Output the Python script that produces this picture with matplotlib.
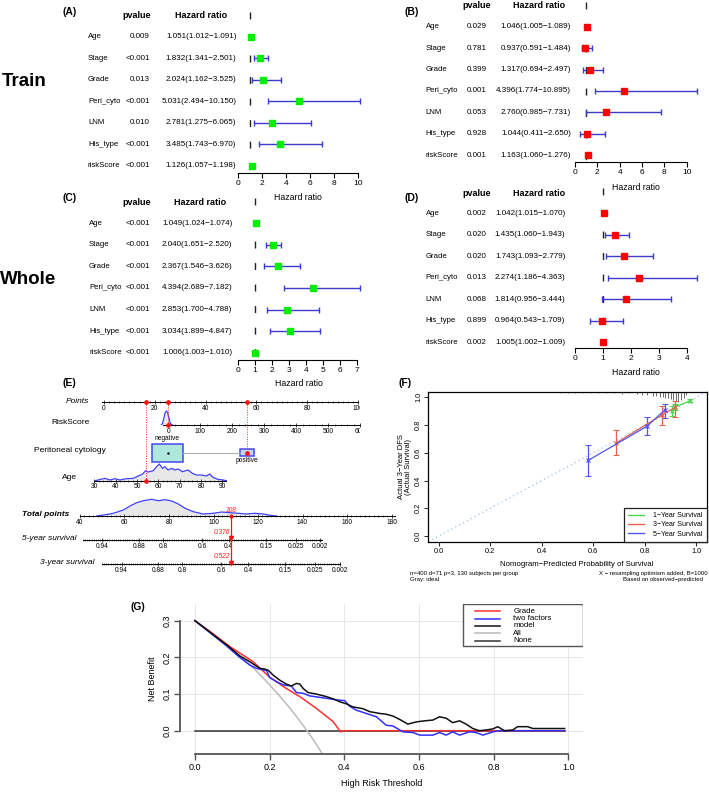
import numpy as np
import matplotlib.pyplot as plt
from matplotlib.transforms import blended_transform_factory, Bbox, TransformedBbox
from matplotlib.patches import Rectangle
from matplotlib.lines import Line2D

plt.rcParams['font.family'] = ['Liberation Sans', 'DejaVu Sans']

# ---------------- data: Cox forest plots ----------------
variables = ['Age', 'Stage', 'Grade', 'Peri_cyto', 'LNM', 'His_type', 'riskScore']

train_uni_p = ['0.009', '<0.001', '0.013', '<0.001', '0.010', '<0.001', '<0.001']
train_uni_hr = [1.051, 1.832, 2.024, 5.031, 2.781, 3.485, 1.126]
train_uni_lo = [1.012, 1.341, 1.162, 2.494, 1.275, 1.743, 1.057]
train_uni_hi = [1.091, 2.501, 3.525, 10.150, 6.065, 6.970, 1.198]

train_multi_p = ['0.029', '0.781', '0.399', '0.001', '0.053', '0.928', '0.001']
train_multi_hr = [1.046, 0.937, 1.317, 4.396, 2.760, 1.044, 1.163]
train_multi_lo = [1.005, 0.591, 0.694, 1.774, 0.985, 0.411, 1.060]
train_multi_hi = [1.089, 1.484, 2.497, 10.895, 7.731, 2.650, 1.276]

whole_uni_p = ['<0.001'] * 7
whole_uni_hr = [1.049, 2.040, 2.367, 4.394, 2.853, 3.034, 1.006]
whole_uni_lo = [1.024, 1.651, 1.546, 2.689, 1.700, 1.899, 1.003]
whole_uni_hi = [1.074, 2.520, 3.626, 7.182, 4.788, 4.847, 1.010]

whole_multi_p = ['0.002', '0.020', '0.020', '0.013', '0.068', '0.899', '0.002']
whole_multi_hr = [1.042, 1.435, 1.743, 2.274, 1.814, 0.964, 1.005]
whole_multi_lo = [1.015, 1.060, 1.093, 1.186, 0.956, 0.543, 1.002]
whole_multi_hi = [1.070, 1.943, 2.779, 4.363, 3.444, 1.709, 1.009]

# ---------------- data: nomogram ----------------
points_ticks = [0, 20, 40, 60, 80, 100]
risk_ticks = [0, 100, 200, 300, 400, 500, 600]
age_ticks = [30, 40, 50, 60, 70, 80, 90]
total_ticks = [40, 60, 80, 100, 120, 140, 160, 180]
surv_labels = ['0.94', '0.88', '0.8', '0.6', '0.4', '0.15', '0.025', '0.002']
surv5_total = [50.0, 66.7, 77.4, 95.0, 106.8, 123.5, 137.1, 147.9]
surv3_total = [58.7, 75.2, 85.8, 103.4, 115.6, 132.1, 145.6, 156.9]
surv5_range = (41.2, 148.6)
surv3_range = (49.8, 156.9)

risk_pts0, risk_pts_per_unit = 25.3, 0.126
age_pts0, age_pts_per_year = -29.0, 0.84
cyto_levels = ['negative', 'positive']
cyto_points = [25.0, 56.3]
cyto_share = [0.85, 0.15]

risk_dens_x = [-22, -18, -14, -10, -6, -2, 2, 6, 10, 14]
risk_dens_y = [0, 1.5, 6.5, 12.0, 14.0, 12.5, 7.0, 2.0, 0.4, 0]

age_dens_x = [30.6, 32.7, 35, 37.3, 39.7, 42, 45.1, 48.2, 50.6, 52.6, 54, 55.2, 57.6, 59.2,
              60.4, 62, 63, 64.6, 66.2, 67.7, 69.3, 71.3, 73.9, 76, 77.9, 80.2, 82.5, 84.1,
              85.6, 88, 90.3, 91.9]
age_dens_y = [0, 1.3, 2.3, 0.7, 2.0, 0.7, 2.0, 2.3, 4.7, 6.7, 10.0, 8.7, 10.0, 14.0,
              16.7, 12.3, 14.0, 10.7, 12.3, 10.7, 11.7, 9.0, 10.7, 7.3, 5.7, 5.7, 4.7, 6.7,
              3.3, 1.3, 0.7, 0]

total_dens_x = [47.5, 50.5, 55, 59.5, 62.5, 65.5, 68.5, 72.2, 75.2, 78.2, 81.2, 84.2, 87.2,
                90.9, 95.4, 99.9, 103.7, 107.4, 111.1, 114.9, 118.7, 122.4, 125.4, 128.4]
total_dens_y = [0, 1.0, 2.7, 6.0, 10.0, 13.3, 15.3, 16.7, 15.3, 16.3, 15.0, 12.0, 7.7,
                4.3, 2.0, 2.7, 4.0, 3.3, 2.7, 2.0, 2.7, 2.0, 0.7, 0]

sel_age, sel_risk, sel_cyto = 54, 0, 'positive'
sel_total, sel_surv5, sel_surv3 = 108, '0.376', '0.522'

# ---------------- data: calibration ----------------
cal1_pred = [0.905, 0.918, 0.977]
cal1_obs = [0.900, 0.930, 0.975]
cal1_lo = [0.862, 0.905, 0.964]
cal1_hi = [0.934, 0.955, 0.988]
cal3_pred = [0.687, 0.866, 0.918]
cal3_obs = [0.669, 0.872, 0.927]
cal3_lo = [0.581, 0.801, 0.855]
cal3_hi = [0.765, 0.939, 0.975]
cal5_pred = [0.580, 0.808, 0.879]
cal5_obs = [0.545, 0.791, 0.910]
cal5_lo = [0.435, 0.729, 0.848]
cal5_hi = [0.655, 0.855, 0.951]
spike_x = [0.47, 0.50, 0.53, 0.56, 0.59, 0.62, 0.65, 0.68, 0.71, 0.74, 0.77, 0.79, 0.81,
           0.83, 0.845, 0.86, 0.87, 0.88, 0.89, 0.90, 0.91, 0.92, 0.93, 0.94, 0.95, 0.96]
spike_n = [1, 1, 1, 1, 1.5, 1, 1.5, 1.5, 2, 1.5, 2, 3, 3, 4, 4, 5, 5, 6, 6, 7, 8, 9, 10, 8, 6, 3]

# ---------------- data: decision curves ----------------
thr_all = [0, 0.025, 0.05, 0.075, 0.1, 0.125, 0.15, 0.175, 0.2, 0.225, 0.25, 0.275, 0.3, 0.32, 0.342]
nb_all = [0.300, 0.282, 0.263, 0.243, 0.222, 0.200, 0.177, 0.152, 0.125, 0.097, 0.067, 0.035,
          0.0, -0.029, -0.064]
thr_grade = [0, 0.05, 0.094, 0.129, 0.156, 0.199, 0.245, 0.281, 0.325, 0.37, 0.39, 0.40, 0.99]
nb_grade = [0.3, 0.263, 0.229, 0.206, 0.188, 0.147, 0.115, 0.093, 0.061, 0.025, -0.003, 0, 0]
thr_model = [0, 0.085, 0.12, 0.147, 0.174, 0.187, 0.196, 0.209, 0.227, 0.245, 0.258, 0.272,
             0.281, 0.29, 0.303, 0.325, 0.352, 0.37, 0.388, 0.406, 0.423, 0.45, 0.468, 0.495,
             0.512, 0.53, 0.548, 0.57, 0.593, 0.615, 0.637, 0.655, 0.673, 0.69, 0.709, 0.726,
             0.744, 0.762, 0.78, 0.798, 0.811, 0.829, 0.851, 0.864, 0.891, 0.905, 0.99]
nb_model = [0.3, 0.234, 0.204, 0.188, 0.17, 0.168, 0.165, 0.152, 0.138, 0.127, 0.122, 0.129,
            0.127, 0.115, 0.104, 0.1, 0.093, 0.087, 0.079, 0.073, 0.065, 0.06, 0.052, 0.047,
            0.045, 0.04, 0.031, 0.018, 0.024, 0.027, 0.029, 0.038, 0.034, 0.022, 0.027, 0.018,
            0.006, 0.0, 0.002, 0.005, 0.011, 0.0, 0.002, 0.011, 0.011, 0.006, 0.006]
thr_two = [0, 0.085, 0.12, 0.147, 0.165, 0.192, 0.2, 0.218, 0.236, 0.258, 0.272, 0.29, 0.307,
           0.334, 0.361, 0.379, 0.401, 0.414, 0.432, 0.459, 0.486, 0.512, 0.53, 0.557, 0.584,
           0.602, 0.637, 0.655, 0.673, 0.69, 0.709, 0.735, 0.753, 0.771, 0.798, 0.815, 0.99]
nb_two = [0.3, 0.231, 0.2, 0.179, 0.17, 0.164, 0.145, 0.134, 0.125, 0.122, 0.104, 0.102, 0.095,
          0.091, 0.087, 0.084, 0.082, 0.067, 0.056, 0.047, 0.038, 0.015, 0.013, -0.003, -0.005,
          -0.012, -0.012, -0.005, -0.012, -0.003, -0.012, -0.003, -0.005, -0.012, -0.003, 0, 0]
thr_none = [0, 0.99]
nb_none = [0, 0]

# ---------------- figure helpers ----------------
W, H = 709, 794
fig = plt.figure(figsize=(W / 100, H / 100), dpi=100)


def add_ax(left, top, right, bottom):
    return fig.add_axes([left / W, 1 - bottom / H, (right - left) / W, (bottom - top) / H])


def ftext(x, y, s, **kw):
    kw.setdefault('ha', 'center')
    kw.setdefault('va', 'center')
    return fig.text(x / W, 1 - y / H, s, **kw)


# ---------------- forest plots ----------------
def forest(x0, x1, xmax, row_top, step, spine_y, head_y, lab_x, p_x, hr_x, p_head, hr_head,
           xlab, pvals, hr, lo, hi, box_color):
    n = len(variables)
    rows = np.arange(n, 0, -1)

    def yd(py):
        return n - (py - row_top) / step

    top_px = head_y - 12
    ax = add_ax(x0, top_px, x1, spine_y)
    ax.set_xlim(0, xmax)
    ax.set_ylim(yd(spine_y), yd(top_px))
    ax.patch.set_visible(False)
    for s in ['top', 'right', 'left']:
        ax.spines[s].set_visible(False)
    ax.spines['bottom'].set_linewidth(0.8)
    ax.set_yticks([])
    ax.set_xticks(range(0, xmax + 1, 2 if xmax == 10 else 1))
    ax.tick_params(axis='x', labelsize=6, length=3.5, width=0.8, pad=1.5)
    ax.plot([1, 1], [n + 1.16, yd(spine_y)], color='#222222', lw=1,
            ls=(0, (5, 10.5)), clip_on=False)
    eb = ax.errorbar(hr, rows, xerr=[np.subtract(hr, lo), np.subtract(hi, hr)], fmt='none',
                     ecolor='#3a3ad0', elinewidth=1, capsize=2.2, capthick=1)
    for a in eb.get_children():
        a.set_clip_on(False)
    ax.plot(hr, rows, 's', color=box_color, ms=4.6, clip_on=False, zorder=3)
    tr = blended_transform_factory(fig.transFigure, ax.transData)
    for r, v, p, h, l, u in zip(rows, variables, pvals, hr, lo, hi):
        ax.text(lab_x / W, r, v, transform=tr, ha='left', va='center', fontsize=5.6)
        ax.text(p_x / W, r, p, transform=tr, ha='right', va='center', fontsize=5.8)
        ax.text(hr_x / W, r, f'{h:.3f}({l:.3f}\u2212{u:.3f})', transform=tr,
                ha='right', va='center', fontsize=5.8)
    ftext(p_head, head_y, 'pvalue', fontsize=6.5, fontweight='bold')
    ftext(hr_head, head_y, 'Hazard ratio', fontsize=6.5, fontweight='bold')
    ftext(xlab[0], xlab[1], 'Hazard ratio', fontsize=6.3)
    return ax


forest(238.3, 358.3, 10, 36.7, 21.5, 172.7, 15, 88, 150, 236.5, 137, 201, (298, 197),
       train_uni_p, train_uni_hr, train_uni_lo, train_uni_hi, '#00ee00')
forest(575, 686.7, 10, 26.7, 21.4, 162, 5, 425.7, 487, 571, 477, 539, (636, 187),
       train_multi_p, train_multi_hr, train_multi_lo, train_multi_hi, '#ff0000')
forest(238.3, 356.7, 7, 223.3, 21.55, 360, 202.7, 89, 150, 232.3, 137, 200, (299, 383),
       whole_uni_p, whole_uni_hr, whole_uni_lo, whole_uni_hi, '#00ee00')
forest(575, 686.7, 4, 213.3, 21.5, 348.3, 193, 425.7, 487, 565.5, 477, 539, (636, 373),
       whole_multi_p, whole_multi_hr, whole_multi_lo, whole_multi_hi, '#ff0000')

ftext(24, 82, 'Train', fontsize=13.5, fontweight='bold')
ftext(28, 279, 'Whole', fontsize=13.5, fontweight='bold')
for lab, x, y in [('(A)', 69.5, 12), ('(B)', 412, 12), ('(C)', 69.5, 198), ('(D)', 412, 198),
                  ('(E)', 69.5, 383), ('(F)', 405, 383), ('(G)', 137.7, 607.3)]:
    ftext(x, y, lab, fontsize=7.5, fontweight='bold')

# ---------------- nomogram ----------------
PTS_PX0, PTS_PX = 104, 2.54
TOT_PX0, TOT_PX = 80, 2.225
clip360 = TransformedBbox(Bbox([[0, 0], [360 / W, 1]]), fig.transFigure)


def pts_lim(right):
    return ((0 - PTS_PX0) / PTS_PX, (right - PTS_PX0) / PTS_PX)


def tot_lim(right):
    return (40 - TOT_PX0 / TOT_PX, 40 + (right - TOT_PX0) / TOT_PX)


def nom_row(axis_y, height, xlim, right, bounds, ticks, labels=None, minor=None, pad=0.8):
    ax = add_ax(0, axis_y - height, right, axis_y)
    ax.set_xlim(*xlim)
    ax.set_ylim(0, height)
    ax.patch.set_visible(False)
    for s in ['top', 'right', 'left']:
        ax.spines[s].set_visible(False)
    ax.spines['bottom'].set_bounds(*bounds)
    ax.spines['bottom'].set_linewidth(0.7)
    ax.set_yticks([])
    ax.set_xticks(ticks, labels=labels if labels is not None else [str(t) for t in ticks])
    if minor is not None:
        ax.set_xticks(minor, minor=True)
    ax.tick_params(axis='x', which='major', labelsize=4.8, length=2.5, width=0.5,
                   direction='inout', pad=pad)
    ax.tick_params(axis='x', which='minor', length=1.6, width=0.4, direction='inout')
    return ax


def to_pts_scale(lim, a, b):
    return ((lim[0] - a) / b, (lim[1] - a) / b)


# Points
ax_pts = nom_row(401.7, 6, pts_lim(400), 400, (-0.9, 100), points_ticks,
                 minor=np.arange(0, 101, 2))
# Risk score
risk_lim = to_pts_scale(pts_lim(400), risk_pts0, risk_pts_per_unit)
risk_end = ((360 - PTS_PX0) / PTS_PX - risk_pts0) / risk_pts_per_unit
ax_risk = nom_row(425, 16, risk_lim, 400, (-17, risk_end), risk_ticks,
                  minor=np.arange(0, 600, 20))
ax_risk.fill_between(risk_dens_x, 0, risk_dens_y, color='#e8e8e8', lw=0)
ax_risk.plot(risk_dens_x, risk_dens_y, color='#4040ff', lw=0.9)
for ax_c in (ax_pts, ax_risk):
    for lab in ax_c.get_xticklabels():
        lab.set_clip_box(clip360)
        lab.set_clip_on(True)
# Age
age_lim = to_pts_scale(pts_lim(360), age_pts0, age_pts_per_year)
ax_age = nom_row(480.7, 20, age_lim, 360, (30, 91.9), age_ticks,
                 minor=np.arange(30, 91, 2), pad=0.1)
ax_age.fill_between(age_dens_x, 0, age_dens_y, color='#e8e8e8', lw=0)
ax_age.plot(age_dens_x, age_dens_y, color='#4040ff', lw=0.9)

# Peritoneal cytology boxes
ax_cy = add_ax(0, 442.7, 360, 462.7)
ax_cy.set_xlim(*pts_lim(360))
ax_cy.set_ylim(-10, 10)
ax_cy.axis('off')
box_w = [13.5 * np.sqrt(s) for s in cyto_share]
box_h = [19.2 * np.sqrt(s) for s in cyto_share]
ax_cy.plot([cyto_points[0] + box_w[0] / 2, cyto_points[1] - box_w[1] / 2], [0, 0],
           color='#b0b0b0', lw=0.8)
fills = ['#aee8dd', '#b9d9f2']
for p, w, h, fc in zip(cyto_points, box_w, box_h, fills):
    ax_cy.add_patch(Rectangle((p - w / 2, -h / 2), w, h, facecolor=fc, edgecolor='#4646f0',
                              lw=1.1, clip_on=False))
ax_cy.plot(cyto_points[0], 0, '.', color='k', ms=1.5)
ax_cy.text(cyto_points[0], 13.7, cyto_levels[0], ha='center', va='center', fontsize=4.8)
ax_cy.text(cyto_points[1], -8.3, cyto_levels[1], ha='center', va='center', fontsize=4.8)

# selected values and red dotted guides
sel_age_pts = age_pts0 + age_pts_per_year * sel_age
sel_risk_pts = risk_pts0 + risk_pts_per_unit * sel_risk
sel_cyto_pts = cyto_points[cyto_levels.index(sel_cyto)]
ax_top = add_ax(0, 398, 360, 484)
ax_top.set_xlim(*pts_lim(360))
ax_top.set_ylim(484, 398)
ax_top.axis('off')
for p, row_y in [(sel_age_pts, 480.7), (sel_risk_pts, 425), (sel_cyto_pts, 452.7)]:
    ax_top.plot([p, p], [401.7, row_y], color='#ff3030', lw=0.7, ls=(0, (1, 1.5)))
    ax_top.plot([p, p], [401.7, row_y], 'o', color='#ff1010', ms=2.4, zorder=4)

# Total points
ax_tot = nom_row(516, 19, tot_lim(400), 400, (40, 181.5), total_ticks,
                 minor=np.arange(40, 181, 2))
ax_tot.fill_between(total_dens_x, 0, total_dens_y, color='#e8e8e8', lw=0)
ax_tot.plot(total_dens_x, total_dens_y, color='#4040ff', lw=0.9)
ax_s5 = nom_row(540, 6, tot_lim(400), 400, surv5_range, surv5_total, labels=surv_labels,
                minor=np.arange(surv5_range[0], surv5_range[1], 1.0))
ax_s3 = nom_row(564, 6, tot_lim(400), 400, surv3_range, surv3_total, labels=surv_labels,
                minor=np.arange(surv3_range[0], surv3_range[1], 1.0))

ax_bot = add_ax(0, 505, 400, 570)
ax_bot.set_xlim(*tot_lim(400))
ax_bot.set_ylim(570, 505)
ax_bot.axis('off')
ax_bot.plot([sel_total, sel_total], [516, 562.5], color='#ff1010', lw=0.9)
ax_bot.plot([sel_total, sel_total], [537.5, 562.5], 'v', color='#ff1010', ms=3)
ax_bot.plot(sel_total, 516, 'o', color='#ff1010', ms=2)
ax_bot.text(sel_total, 510.7, str(sel_total), color='#ff2020', fontsize=4.8, style='italic',
            ha='center', va='center')
ax_bot.text(sel_total - 0.6, 532.7, sel_surv5, color='#ff2020', fontsize=4.8,
            style='italic', ha='right', va='center')
ax_bot.text(sel_total - 0.6, 556.7, sel_surv3, color='#ff2020', fontsize=4.8,
            style='italic', ha='right', va='center')

for txt, x, y, kw in [('Points', 77, 401.7, dict(style='italic')),
                      ('RiskScore', 71, 423, {}),
                      ('Peritoneal cytology', 70, 451, {}),
                      ('Age', 69, 477.7, {}),
                      ('Total points', 46, 515, dict(style='italic', fontweight='bold')),
                      ('5-year survival', 49, 538.3, dict(style='italic')),
                      ('3-year survival', 67.3, 562.7, dict(style='italic'))]:
    ftext(x, y, txt, fontsize=6, **kw)

# ---------------- calibration ----------------
ax_f = add_ax(428.3, 391.7, 706.7, 541.7)
ax_f.set_xlim(-0.04, 1.04)
ax_f.set_ylim(-0.04, 1.04)
ax_f.axline((0, 0), slope=1, color='#9cc3e0', lw=0.9, ls=(0, (1, 2.5)))
ax_f.vlines(spike_x, 1.04 - np.array(spike_n) * 0.0072, 1.04, colors='#555555', lw=0.6)
cal_sets = [(cal1_pred, cal1_obs, cal1_lo, cal1_hi, '#4fd84f', '1\u2212Year Survival'),
            (cal3_pred, cal3_obs, cal3_lo, cal3_hi, '#e5624e', '3\u2212Year Survival'),
            (cal5_pred, cal5_obs, cal5_lo, cal5_hi, '#5454f0', '5\u2212Year Survival')]
handles = []
for pred, obs, lo, hi, c, lab in cal_sets:
    ax_f.errorbar(pred, obs, yerr=[np.subtract(obs, lo), np.subtract(hi, obs)], color=c,
                  lw=0.9, elinewidth=0.9, capsize=2, capthick=0.9, marker='x', ms=2.5,
                  mew=0.8)
    handles.append(Line2D([], [], color=c, lw=1.0, label=lab))
leg = ax_f.legend(handles=handles, loc='lower right', bbox_to_anchor=(1, 0), borderaxespad=0,
                  fontsize=5, handlelength=2.4, handletextpad=1.3, labelspacing=0.35,
                  fancybox=False, edgecolor='#222222', framealpha=1, borderpad=0.55)
leg.get_frame().set_linewidth(0.9)
ax_f.set_xticks(np.arange(0, 1.01, 0.2))
ax_f.set_yticks(np.arange(0, 1.01, 0.2))
ax_f.set_xticklabels([f'{v:.1f}' for v in np.arange(0, 1.01, 0.2)])
ax_f.set_yticklabels([f'{v:.1f}' for v in np.arange(0, 1.01, 0.2)], rotation=90, va='center')
ax_f.tick_params(labelsize=5.3, length=3, width=0.6, pad=1.5)
for s in ax_f.spines.values():
    s.set_linewidth(0.9)
ax_f.set_ylabel('Actual 3\u2212Year DFS\n(Actual Survival)', fontsize=5.5, linespacing=1.0,
                labelpad=2)
ftext(576.7, 565, 'Nomogram\u2212Predicted Probability of Survival', fontsize=5.6)
ftext(410, 573, 'n=400 d=71 p=3, 130 subjects per group', fontsize=4.3, ha='left')
ftext(410, 579, 'Gray: ideal', fontsize=4.3, ha='left')
ftext(708, 573, 'X \u2212 resampling optimism added, B=1000', fontsize=4.3, ha='right')
ftext(702.7, 579, 'Based on observed\u2212predicted', fontsize=4.3, ha='right')

# ---------------- decision curves ----------------
ax_g = add_ax(180, 604, 583.3, 754.3)
ax_g.set_xlim(-0.04, 1.04)
ax_g.set_ylim(-0.0643, 0.3455)
ax_g.set_xticks(np.arange(0, 1.01, 0.2))
ax_g.set_yticks([0, 0.1, 0.2, 0.3])
ax_g.set_xticklabels([f'{v:.1f}' for v in np.arange(0, 1.01, 0.2)])
ax_g.set_yticklabels(['0.0', '0.1', '0.2', '0.3'], rotation=90, va='center')
ax_g.grid(color='#e6e6e6', lw=0.7)
ax_g.set_axisbelow(True)
for s in ['top', 'right']:
    ax_g.spines[s].set_visible(False)
ax_g.spines['left'].set_bounds(0, 0.3)
ax_g.spines['bottom'].set_bounds(0, 1)
for s in ['left', 'bottom']:
    ax_g.spines[s].set_color('#555555')
    ax_g.spines[s].set_linewidth(1.3)
ax_g.tick_params(labelsize=6.5, length=4, width=1, color='#555555', pad=2)

curves = [('None', thr_none, nb_none, '#333333'),
          ('All', thr_all, nb_all, '#bbbbbb'),
          ('Grade', thr_grade, nb_grade, '#ff3030'),
          ('two factors', thr_two, nb_two, '#3030ff'),
          ('model', thr_model, nb_model, '#111111')]
for name, t, nb, c in curves:
    ax_g.plot(t, nb, color=c, lw=1.1)
ax_g.set_xlabel('High Risk Threshold', fontsize=6.5, labelpad=5)
ax_g.set_ylabel('Net Benefit', fontsize=6.5, labelpad=4)

# legend box drawn as in the R output (tightly stacked entries)
ax_g.add_patch(Rectangle((0.7025, 0.7206), 0.2975, 0.2794, transform=ax_g.transAxes,
                         facecolor='white', edgecolor='#555555', lw=1, zorder=5))
legend_order = ['Grade', 'two factors', 'model', 'All', 'None']
legend_color = {name: c for name, _, _, c in curves}
for i, name in enumerate(legend_order):
    yy = 1 - (611.3 + i * 7.3 - 604) / 150.3
    ax_g.plot([0.7316, 0.7934], [yy, yy], color=legend_color[name], lw=1.1,
              transform=ax_g.transAxes, zorder=6)
    ax_g.text(0.8264, yy, name, fontsize=5.7, va='center', ha='left',
              transform=ax_g.transAxes, zorder=6)

fig.savefig('out.png', dpi=100)
